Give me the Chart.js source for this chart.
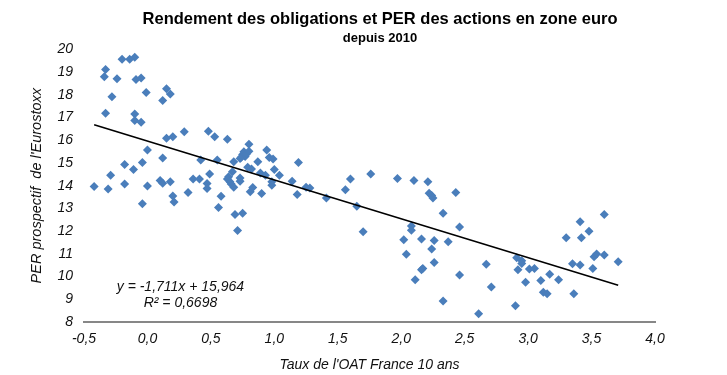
<!DOCTYPE html>
<html>
<head>
    <title>Rendement des obligations et PER des actions en zone euro</title>
    <script src="https://cdn.jsdelivr.net/npm/chart.js"></script>
    <style>
        body { margin: 0; background: #fff; }
        .chart-container { width: 727px; height: 375px; }
    </style>
</head>
<body>
    <div class="chart-container">
        <canvas id="per-chart" width="727" height="375"></canvas>
    </div>

    <script>
        // Taux de l'OAT 10 ans (x) et PER prospectif Eurostoxx (y)
        const tauxOAT = [
            -0.42, -0.34, -0.33, -0.33, -0.28, -0.24, -0.20, -0.14, -0.10, -0.09,
            -0.05, -0.10, -0.10, -0.05, -0.01, 0.12, 0.15, 0.18, -0.31, -0.29,
            -0.18, -0.18, -0.11, -0.04, -0.04, 0.00, 0.00, 0.10, 0.12, 0.12,
            0.15, 0.20, 0.29, 0.18, 0.20, 0.21, 0.32, 0.36, 0.41, 0.42,
            0.48, 0.53, 0.63, 0.80, 0.94, 0.76, 0.75, 0.74, 0.77, 0.78,
            0.73, 0.80, 0.96, 0.99, 0.87, 0.68, 0.55, 0.79, 0.82, 1.00,
            0.89, 0.93, 1.04, 1.19, 0.67, 0.64, 0.63, 0.65, 0.66, 0.68,
            0.73, 0.73, 0.49, 0.47, 0.47, 0.98, 0.98, 0.83, 0.81, 0.90,
            1.14, 1.18, 0.58, 0.56, 0.69, 0.71, 0.75, 1.25, 1.28, 1.41,
            1.56, 1.60, 1.76, 1.65, 1.70, 1.97, 2.10, 2.21, 2.22, 2.24,
            2.25, 2.33, 2.43, 2.08, 2.08, 2.02, 2.16, 2.26, 2.37, 2.04,
            2.24, 2.26, 2.16, 2.17, 2.11, 2.33, 2.46, 2.46, 2.67, 2.71,
            2.61, 2.90, 2.91, 2.95, 2.95, 2.92, 2.98, 3.01, 3.05, 3.10,
            3.12, 3.15, 3.17, 3.24, 3.30, 3.35, 3.36, 3.41, 3.41, 3.42,
            3.48, 3.51, 3.52, 3.54, 3.60, 3.60, 3.71
        ];
        const perEurostoxx = [
            13.97, 18.80, 19.11, 17.19, 17.92, 18.71, 19.57, 19.57, 19.65, 18.68,
            18.74, 17.16, 16.87, 16.79, 18.10, 17.75, 18.27, 18.04, 13.85, 14.46,
            14.08, 14.93, 14.71, 15.02, 13.20, 15.57, 13.99, 14.23, 14.11, 15.22,
            16.09, 16.16, 16.37, 14.17, 13.55, 13.28, 13.70, 14.29, 14.29, 15.13,
            16.40, 16.16, 16.04, 15.82, 15.57, 15.49, 15.37, 15.25, 15.28, 15.39,
            15.20, 15.52, 15.24, 15.17, 15.05, 15.05, 15.13, 14.81, 14.73, 14.71,
            14.56, 14.46, 14.46, 15.02, 14.61, 14.39, 14.29, 14.17, 14.07, 13.93,
            14.34, 14.20, 14.51, 14.10, 13.88, 14.17, 14.02, 13.92, 13.73, 13.66,
            14.20, 13.61, 13.54, 13.04, 12.73, 12.03, 12.79, 13.93, 13.90, 13.46,
            13.82, 14.30, 14.51, 13.09, 11.97, 14.32, 14.23, 14.17, 13.67, 13.57,
            13.46, 12.79, 13.70, 12.23, 12.04, 11.62, 11.65, 11.59, 11.53, 10.98,
            11.21, 10.62, 10.30, 10.36, 9.86, 8.92, 12.18, 10.07, 10.54, 9.54,
            8.36, 8.72, 10.83, 10.70, 10.58, 10.30, 9.75, 10.33, 10.36, 9.83,
            9.31, 9.24, 10.10, 9.86, 11.71, 10.56, 9.24, 10.51, 12.41, 11.71,
            12.00, 10.36, 10.87, 10.99, 12.73, 10.95, 10.65
        ];

        // droite de tendance affichée sur le graphique
        const trendSlope = -1.711;
        const trendIntercept = 15.964;
        const equationLines = ['y = -1,711x + 15,964', 'R\u00b2 = 0,6698'];

        const xMin = -0.5, xMax = 4.0, xStep = 0.5;
        const yMin = 8, yMax = 20, yStep = 1;

        const fontFamily = '"Liberation Sans", Arial, sans-serif';

        const points = tauxOAT.map((x, i) => ({ x: x, y: perEurostoxx[i] }));
        const xFirst = Math.min(...tauxOAT);
        const xLast = Math.max(...tauxOAT);
        const trendPoints = [xFirst, xLast].map(x => ({ x: x, y: trendIntercept + trendSlope * x }));

        // texte de l'équation, placé en coordonnées de données
        const equationLabel = {
            id: 'equationLabel',
            afterDatasetsDraw(chart) {
                const { ctx, scales } = chart;
                ctx.save();
                ctx.font = 'italic 14px ' + fontFamily;
                ctx.fillStyle = '#111';
                ctx.textAlign = 'center';
                ctx.textBaseline = 'middle';
                ctx.fillText(equationLines[0], scales.x.getPixelForValue(0.26), scales.y.getPixelForValue(9.54));
                ctx.fillText(equationLines[1], scales.x.getPixelForValue(0.26), scales.y.getPixelForValue(8.84));
                ctx.restore();
            }
        };

        const ctx = document.getElementById('per-chart').getContext('2d');
        const perChart = new Chart(ctx, {
            type: 'scatter',
            data: {
                datasets: [{
                    label: 'PER / OAT',
                    data: points,
                    backgroundColor: '#4a7ebb',
                    borderColor: '#4a7ebb',
                    pointStyle: 'rectRot',
                    pointRadius: 4.5,
                    borderWidth: 0,
                    order: 2
                },
                {
                    type: 'line',
                    label: 'Tendance',
                    data: trendPoints,
                    borderColor: '#000',
                    borderWidth: 1.6,
                    pointRadius: 0,
                    fill: false,
                    order: 1
                }]
            },
            options: {
                responsive: false,
                animation: false,
                layout: { padding: { left: 33, right: 0, top: 0, bottom: 0 } },
                plugins: {
                    legend: { display: false },
                    tooltip: { enabled: false },
                    title: {
                        display: true,
                        text: 'Rendement des obligations et PER des actions en zone euro',
                        color: '#000',
                        font: { family: fontFamily, size: 16.5, weight: 'bold' },
                        padding: { top: 10, bottom: 0 }
                    },
                    subtitle: {
                        display: true,
                        text: 'depuis 2010',
                        color: '#000',
                        font: { family: fontFamily, size: 13, weight: 'bold' },
                        padding: { top: 1, bottom: 3 }
                    }
                },
                scales: {
                    x: {
                        type: 'linear',
                        position: 'bottom',
                        min: xMin,
                        max: xMax,
                        grid: { display: false, drawTicks: false },
                        border: { display: true, color: '#878787', width: 2 },
                        ticks: {
                            stepSize: xStep,
                            padding: 9,
                            color: '#111',
                            font: { family: fontFamily, size: 14, style: 'italic' },
                            callback: v => v.toFixed(1).replace('.', ',')
                        },
                        title: {
                            display: true,
                            text: "Taux de l'OAT France 10 ans",
                            color: '#111',
                            font: { family: fontFamily, size: 14, style: 'italic' },
                            padding: { top: 0, bottom: 1 }
                        },
                        afterFit: s => { s.height = 53; }
                    },
                    y: {
                        min: yMin,
                        max: yMax,
                        grid: { display: false, drawTicks: false },
                        border: { display: false },
                        ticks: {
                            stepSize: yStep,
                            padding: 11,
                            color: '#111',
                            font: { family: fontFamily, size: 14, style: 'italic' }
                        },
                        title: {
                            display: true,
                            text: "PER prospectif  de l'Eurostoxx",
                            color: '#111',
                            font: { family: fontFamily, size: 14.5, style: 'italic', lineHeight: 1 },
                            padding: { top: -3, bottom: 0 }
                        },
                        afterFit: s => { s.width = 51; }
                    },
                    // axe vide à droite pour réserver la marge
                    yRight: {
                        position: 'right',
                        display: true,
                        grid: { display: false, drawTicks: false },
                        border: { display: false },
                        ticks: { display: false },
                        afterFit: s => { s.width = 72; }
                    }
                }
            },
            plugins: [equationLabel]
        });
    </script>
</body>
</html>
